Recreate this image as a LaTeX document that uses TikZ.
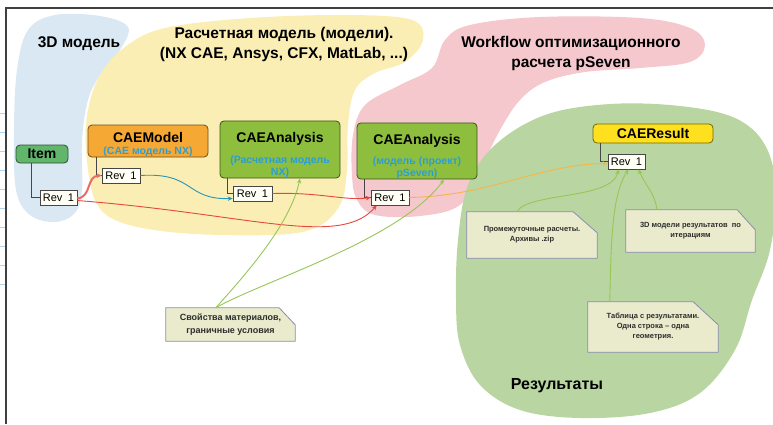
\documentclass[tikz,border=0pt]{standalone}
\usepackage{fontspec}
\setmainfont{Liberation Sans}
\usetikzlibrary{arrows.meta, backgrounds}

\definecolor{blobblue}{RGB}{218,232,244}
\definecolor{blobyellow}{RGB}{251,238,180}
\definecolor{blobpink}{RGB}{245,200,206}
\definecolor{blobgreen}{RGB}{185,214,162}
\definecolor{itemgreen}{RGB}{98,182,108}
\definecolor{modelorange}{RGB}{245,168,52}
\definecolor{anagreen}{RGB}{141,190,62}
\definecolor{resyellow}{RGB}{255,224,30}
\definecolor{subblue}{RGB}{45,158,210}
\definecolor{revfill}{RGB}{255,255,246}
\definecolor{revline}{RGB}{70,70,70}
\definecolor{notefill}{RGB}{233,235,204}
\definecolor{noteline}{RGB}{140,140,175}
\definecolor{notetext}{RGB}{45,45,45}
\definecolor{linkred}{RGB}{228,72,62}
\definecolor{linksalmon}{RGB}{238,105,100}
\definecolor{linkteal}{RGB}{40,150,180}
\definecolor{linkorange}{RGB}{245,182,70}
\definecolor{linkgreen}{RGB}{150,198,85}
\definecolor{gridblue}{RGB}{175,212,240}

\begin{document}
\begin{tikzpicture}[
    x=1pt, y=-1pt,
    every node/.style={font=\fontsize{10}{12}\selectfont},
    title/.style={font=\fontsize{15.5}{20}\selectfont\bfseries, align=center, inner sep=0pt},
    obj/.style={draw=#1!45!black, fill=#1, rounded corners=4pt, line width=0.8pt, align=center, inner sep=0pt, minimum width=120pt},
    rev/.style={draw=revline, fill=revfill, line width=0.6pt, minimum width=38pt, minimum height=15pt, inner sep=0pt, font=\fontsize{11}{12}\selectfont},
    tree/.style={draw=revline, line width=0.6pt},
    note/.style={align=center, inner sep=0pt, text=notetext, font=\fontsize{7.5}{10}\selectfont\bfseries},
    ar/.style={-{Stealth[length=5pt, width=4.5pt]}, line width=0.9pt},
    blob/.style={draw=none, fill=#1}
]
\useasboundingbox (0,0) rectangle (773,424);

% coloured areas
\begin{scope}[on background layer]
\path[blob=blobblue] plot[smooth cycle, tension=0.6] coordinates {(14,130) (17,70) (28,30) (55,15) (100,16) (128,27) (120,50) (100,75) (88,100) (82,140) (82,190) (75,213) (55,222) (30,215) (16,190)};
\path[blob=blobyellow] plot[smooth cycle, tension=0.6] coordinates {(86,150) (88,110) (100,75) (125,47) (165,28) (250,18) (350,15) (412,20) (423,40) (405,62) (375,73) (355,90) (348,125) (347,170) (340,205) (315,228) (270,235) (180,233) (120,222) (95,200)};
\path[blob=blobpink] plot[smooth cycle, tension=0.6] coordinates {(352,175) (353,135) (365,105) (400,85) (432,68) (445,40) (470,25) (540,17) (640,18) (690,28) (705,45) (690,62) (640,68) (585,72) (545,82) (520,100) (500,130) (480,170) (460,205) (420,216) (375,215) (357,200)};
\path[blob=blobgreen] plot[smooth cycle, tension=0.6] coordinates {(456,300) (458,240) (468,185) (495,145) (545,115) (610,104) (680,106) (735,118) (765,145) (776,190) (770,250) (752,300) (735,350) (700,393) (650,413) (580,418) (520,410) (480,385) (460,345)};
\end{scope}

% page frame
\draw[gridblue, line width=0.5pt] \foreach \gy in {113,132,...,284} {(0,\gy) -- (6,\gy)};
\draw[black!75, line width=1.4pt] (6,424) -- (6,8) -- (773,8);

% area titles
\node[title] (t3d) at (79,44) {3D модель};
\node[title] (tcalc) at (284,44) {Расчетная модель (модели).\\(NX CAE, Ansys, CFX, MatLab, ...)};
\node[title] (twf) at (571,53) {Workflow оптимизационного\\расчета pSeven};
\node[title, font=\fontsize{16}{20}\selectfont\bfseries] (tres) at (557,386) {Результаты};

% objects
\node[obj=itemgreen, minimum width=52pt, minimum height=18pt, font=\fontsize{14}{15}\selectfont\bfseries] (item) at (42,154) {Item};
\node[obj=modelorange, minimum height=32pt] (model) at (148,141)
  {\fontsize{14}{15}\selectfont\bfseries\rule{0pt}{17pt}CAEModel\\[0pt]\fontsize{10.5}{12}\selectfont\bfseries\color{subblue}(CAE модель NX)};
\node[obj=anagreen, minimum height=51pt] (ana1) at (280,149.5)
  {\fontsize{14}{15}\selectfont\bfseries\rule{0pt}{22pt}CAEAnalysis\\[9pt]\fontsize{10.5}{11}\selectfont\bfseries\color{subblue}(Расчетная модель\\\fontsize{10.5}{11}\selectfont\bfseries\color{subblue}NX)};
\node[obj=anagreen, minimum height=54pt] (ana2) at (417,151)
  {\fontsize{14}{15}\selectfont\bfseries\rule{0pt}{22pt}CAEAnalysis\\[8pt]\fontsize{10.5}{11}\selectfont\bfseries\color{subblue}(модель (проект)\\\fontsize{10.5}{11}\selectfont\bfseries\color{subblue}pSeven)};
\node[obj=resyellow, minimum height=19pt, font=\fontsize{14}{15}\selectfont\bfseries] (result) at (653,133.5) {CAEResult};

% revisions
\node[rev, minimum width=37pt] (itemrev) at (58.5,197.5) {Rev\enspace1};
\node[rev] (modelrev) at (121,175.5) {Rev\enspace1};
\node[rev, minimum width=39pt] (ana1rev) at (252.5,193.5) {Rev\enspace1};
\node[rev] (ana2rev) at (390,197.5) {Rev\enspace1};
\node[rev, minimum width=37pt] (resultrev) at (626.5,161.5) {Rev\enspace1};

\draw[tree] ([xshift=16pt]item.south west) |- (itemrev.west);
\draw[tree] ([xshift=9pt]model.south west) |- (modelrev.west);
\draw[tree] ([xshift=8pt]ana1.south west) |- (ana1rev.west);
\draw[tree] ([xshift=8pt]ana2.south west) |- (ana2rev.west);
\draw[tree] ([xshift=8pt]result.south west) |- (resultrev.west);

% notes
\node[note, minimum width=129pt, minimum height=33pt, font=\fontsize{9}{13}\selectfont\bfseries] (props) at (230.5,324.5) {Свойства материалов,\\граничные условия};
\node[note, minimum width=130pt, minimum height=46pt] (inter) at (532,235) {Промежуточные расчеты.\\Архивы .zip};
\node[note, minimum width=129pt, minimum height=42pt] (iter) at (690.5,231) {3D модели результатов~~по\\итерациям};
\node[note, minimum width=130pt, minimum height=50pt] (table) at (653,327) {Таблица с результатами.\\Одна строка – одна\\геометрия.};
\begin{scope}[on background layer]
\foreach \n/\cx/\cy in {props/16/17, inter/24/21, iter/18/20, table/25/23}
  \filldraw[fill=notefill, draw=noteline, line width=0.8pt] (\n.south west) -- (\n.north west)
    -- ([xshift=-\cx pt]\n.north east) -- ([yshift=-\cy pt]\n.north east) -- (\n.south east) -- cycle;
\end{scope}

% links between revisions
\draw[ar, linksalmon, line width=2pt] ([yshift=-1pt]itemrev.east) .. controls (92,197) and (86,176) .. (modelrev.west);
\draw[ar, linkred] ([yshift=-3pt]itemrev.east) .. controls (250,214) and (340,248) .. ([xshift=6pt]ana2rev.south west);
\draw[ar, linkteal] (modelrev.east) .. controls (195,172) and (185,200) .. ([yshift=-5pt]ana1rev.west);
\draw[ar, linkred] (ana1rev.east) .. controls (320,192) and (345,201) .. (ana2rev.west);
\draw[ar, linkorange] (ana2rev.east) .. controls (490,196) and (540,164) .. ([yshift=-2pt]resultrev.west);

% links from notes
\draw[ar, linkgreen] ([xshift=50pt]props.north west) .. controls (245,275) and (290,225) .. ([xshift=20pt]ana1.south);
\draw[ar, linkgreen] ([xshift=50pt]props.north west) .. controls (260,282) and (400,240) .. ([xshift=27pt]ana2.south);
\draw[ar, linkgreen] ([xshift=50pt]inter.north west) .. controls (528,192) and (612,200) .. ([xshift=-8pt]resultrev.south);
\draw[ar, linkgreen] ([xshift=22pt]table.north west) .. controls (611,240) and (612,195) .. ([xshift=2pt]resultrev.south);
\draw[ar, linkgreen] ([xshift=31pt]iter.north west) .. controls (656,195) and (645,185) .. ([xshift=12pt]resultrev.south);
\end{tikzpicture}
\end{document}
